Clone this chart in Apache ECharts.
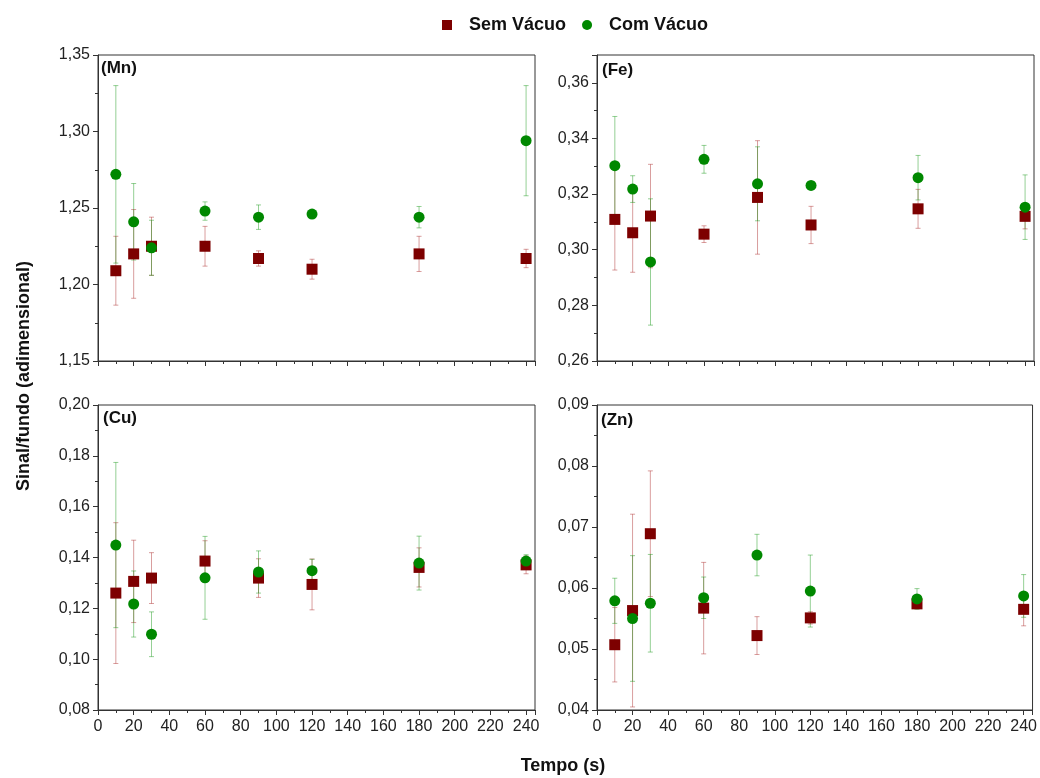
<!DOCTYPE html>
<html>
<head>
<meta charset="utf-8">
<script src="https://cdn.jsdelivr.net/npm/echarts@6/dist/echarts.min.js"></script>
<style>html,body{margin:0;padding:0;background:#fff;}#c{width:1040px;height:778px;}</style>
</head>
<body>
<div id="c"></div>
<script>
const times = [10, 20, 30, 60, 90, 120, 180, 240];
const seriesNames = ['Sem Vácuo', 'Com Vácuo'];
const panelLabels = ['(Mn)', '(Fe)', '(Cu)', '(Zn)'];

const mnSem = [1.209, 1.220, 1.225, 1.225, 1.217, 1.210, 1.220, 1.217];
const mnSemErr = [0.0225, 0.029, 0.019, 0.013, 0.005, 0.0065, 0.0115, 0.006];
const mnCom = [1.272, 1.241, 1.224, 1.248, 1.244, 1.246, 1.244, 1.294];
const mnComErr = [0.058, 0.025, 0.018, 0.006, 0.008, 0.002, 0.007, 0.036];

const feSem = [0.3109, 0.3061, 0.3121, 0.3056, 0.3188, 0.3089, 0.3147, 0.3120];
const feSemErr = [0.0182, 0.0142, 0.0186, 0.003, 0.0204, 0.0067, 0.007, 0.0045];
const feCom = [0.3302, 0.3218, 0.2956, 0.3325, 0.3237, 0.3231, 0.3259, 0.3153];
const feComErr = [0.0177, 0.0048, 0.0227, 0.005, 0.0133, 0.001, 0.008, 0.0116];

const cuSem = [0.1260, 0.1306, 0.1319, 0.1386, 0.1319, 0.1294, 0.1361, 0.1371];
const cuSemErr = [0.0277, 0.0162, 0.010, 0.008, 0.0076, 0.010, 0.0077, 0.0035];
const cuCom = [0.1449, 0.1217, 0.1098, 0.1320, 0.1343, 0.1348, 0.1378, 0.1386];
const cuComErr = [0.0325, 0.013, 0.0088, 0.0163, 0.0083, 0.0045, 0.0106, 0.0025];

const znSem = [0.0507, 0.0563, 0.0689, 0.0567, 0.0522, 0.0551, 0.0574, 0.0565];
const znSemErr = [0.0061, 0.0158, 0.0103, 0.0075, 0.0031, 0.001, 0.0007, 0.0027];
const znCom = [0.0579, 0.0550, 0.0575, 0.0584, 0.0654, 0.0595, 0.0582, 0.0587];
const znComErr = [0.0037, 0.0103, 0.008, 0.0034, 0.0034, 0.0059, 0.0017, 0.0035];

const yRanges = [
  {min: 1.15, max: 1.35, interval: 0.05},
  {min: 0.26, max: 0.37, interval: 0.02},
  {min: 0.08, max: 0.20, interval: 0.02},
  {min: 0.04, max: 0.09, interval: 0.01}
];

const panels = [
  [mnSem, mnSemErr, mnCom, mnComErr],
  [feSem, feSemErr, feCom, feComErr],
  [cuSem, cuSemErr, cuCom, cuComErr],
  [znSem, znSemErr, znCom, znComErr]
];

const RED = '#7d0000', GREEN = '#008800';
const RED_BAR = 'rgba(170,40,40,0.45)', GREEN_BAR = 'rgba(20,150,20,0.45)';
const FONT = 'Liberation Sans, Arial, sans-serif';

const grids = [
  {left: 98, top: 55, width: 437, height: 306},
  {left: 597, top: 55, width: 437, height: 306},
  {left: 98, top: 405, width: 437, height: 305},
  {left: 597, top: 405, width: 437, height: 305}
].map(g => Object.assign({show: true, borderColor: '#333', borderWidth: 1, backgroundColor: 'transparent'}, g));

const xAxes = grids.map((g, i) => ({
  type: 'value', gridIndex: i, min: 0, max: 245, interval: 20,
  axisLine: {show: true, onZero: false, lineStyle: {color: '#333', width: 1}},
  axisTick: {show: true, inside: false, length: 5, lineStyle: {color: '#333'}},
  minorTick: {show: true, splitNumber: 2, length: 3, lineStyle: {color: '#333'}},
  splitLine: {show: false},
  axisLabel: {show: i >= 2, showMaxLabel: false, margin: 9, fontSize: 16, color: '#222', fontFamily: FONT}
}));

const yAxes = grids.map((g, i) => ({
  type: 'value', gridIndex: i, min: yRanges[i].min, max: yRanges[i].max, interval: yRanges[i].interval,
  axisLine: {show: true, lineStyle: {color: '#333', width: 1}},
  axisTick: {show: true, inside: false, length: 5, lineStyle: {color: '#333'}},
  minorTick: {show: true, splitNumber: 2, length: 3, lineStyle: {color: '#333'}},
  splitLine: {show: false},
  axisLabel: {
    margin: 8, fontSize: 16, color: '#222', fontFamily: FONT,
    showMaxLabel: i !== 1,
    formatter: v => v.toFixed(2).replace('.', ',')
  }
}));

function errRender(color) {
  return function (params, api) {
    const x = api.value(0), y = api.value(1), e = api.value(2);
    const t = api.coord([x, y + e]), b = api.coord([x, y - e]);
    const hw = 2.5;
    const st = {stroke: color, lineWidth: 1};
    return {type: 'group', children: [
      {type: 'line', shape: {x1: t[0], y1: t[1], x2: b[0], y2: b[1]}, style: st},
      {type: 'line', shape: {x1: t[0] - hw, y1: t[1], x2: t[0] + hw, y2: t[1]}, style: st},
      {type: 'line', shape: {x1: b[0] - hw, y1: b[1], x2: b[0] + hw, y2: b[1]}, style: st}
    ]};
  };
}

const series = [];
panels.forEach((p, i) => {
  const [sv, se, cv, ce] = p;
  series.push({
    type: 'custom', name: 'errSem' + i, xAxisIndex: i, yAxisIndex: i,
    renderItem: errRender(RED_BAR), encode: {x: 0, y: 1}, silent: true, z: 1,
    data: times.map((t, k) => [t, sv[k], se[k]])
  });
  series.push({
    type: 'custom', name: 'errCom' + i, xAxisIndex: i, yAxisIndex: i,
    renderItem: errRender(GREEN_BAR), encode: {x: 0, y: 1}, silent: true, z: 1,
    data: times.map((t, k) => [t, cv[k], ce[k]])
  });
});
panels.forEach((p, i) => {
  const sv = p[0];
  series.push({
    type: 'scatter', name: seriesNames[0], xAxisIndex: i, yAxisIndex: i,
    symbol: 'rect', symbolSize: 11, z: 3,
    itemStyle: {color: RED, opacity: 1},
    data: times.map((t, k) => [t, sv[k]])
  });
});
panels.forEach((p, i) => {
  const cv = p[2];
  series.push({
    type: 'scatter', name: seriesNames[1], xAxisIndex: i, yAxisIndex: i,
    symbol: 'circle', symbolSize: 11, z: 4,
    itemStyle: {color: GREEN, opacity: 1},
    data: times.map((t, k) => [t, cv[k]])
  });
});

const labelPos = [[101, 60], [602, 62], [103, 410], [601, 412]];
const graphics = panelLabels.map((txt, i) => ({
  type: 'text', left: labelPos[i][0], top: labelPos[i][1], z: 10,
  style: {text: txt, font: 'bold 17px ' + FONT, fill: '#111'}
}));
graphics.push({
  type: 'text', x: 24, y: 376, rotation: Math.PI / 2, z: 10,
  style: {text: 'Sinal/fundo (adimensional)', font: 'bold 18px ' + FONT, fill: '#111', align: 'center', verticalAlign: 'middle'}
});
graphics.push({
  type: 'text', x: 563, y: 766, z: 10,
  style: {text: 'Tempo (s)', font: 'bold 18px ' + FONT, fill: '#111', align: 'center', verticalAlign: 'middle'}
});

const chart = echarts.init(document.getElementById('c'), null, {renderer: 'canvas'});
chart.setOption({
  animation: false,
  backgroundColor: '#fff',
  legend: {
    data: seriesNames, left: 437, top: 11, itemWidth: 10, itemHeight: 10, itemGap: 16,
    itemStyle: {opacity: 1},
    textStyle: {fontSize: 18, fontWeight: 'bold', color: '#111', fontFamily: FONT, padding: [0, 0, 0, 12]}
  },
  grid: grids,
  xAxis: xAxes,
  yAxis: yAxes,
  series: series,
  graphic: graphics
});
</script>
</body>
</html>
